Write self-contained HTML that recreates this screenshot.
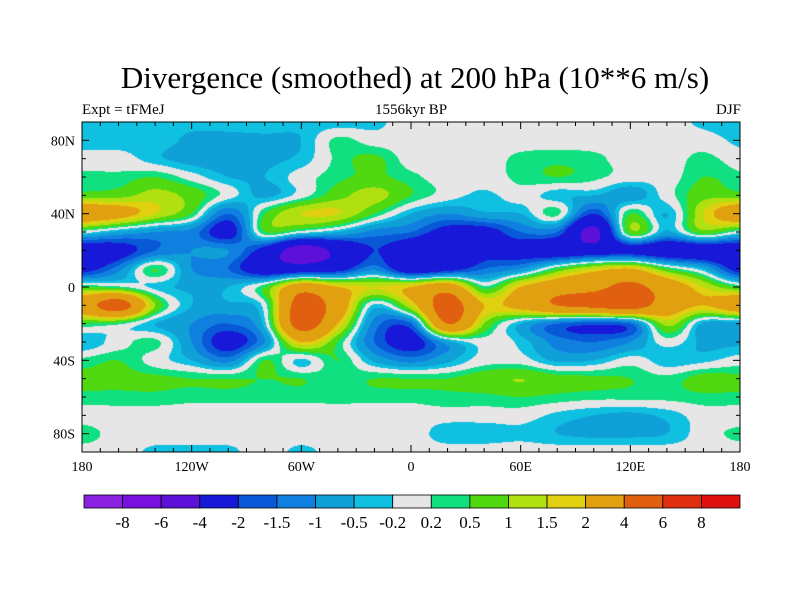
<!DOCTYPE html>
<html><head><meta charset="utf-8"><style>
body{margin:0;background:#fff;}
#wrap{position:relative;width:800px;height:600px;font-family:"Liberation Serif",serif;color:#000;overflow:hidden}
.t{position:absolute;white-space:nowrap}
</style></head><body>
<div id="wrap">
<div class="t" style="left:15px;width:800px;text-align:center;top:60px;font-size:31px">Divergence (smoothed) at 200 hPa (10**6 m/s)</div>
<div class="t" style="left:82px;top:102px;font-size:15px">Expt = tFMeJ</div>
<div class="t" style="left:311px;width:200px;text-align:center;top:102px;font-size:15px">1556kyr BP</div>
<div class="t" style="right:59px;top:102px;font-size:15px">DJF</div>
<canvas id="map" width="658" height="330" style="position:absolute;left:82px;top:122px"></canvas>
<svg id="ax" width="800" height="600" style="position:absolute;left:0;top:0"></svg>
</div>
<script>
const lons=[-180,-160,-140,-120,-100,-80,-60,-40,-20,0,20,40,60,80,100,120,140,160,180];
const lats=[90,80,70,60,50,40,30,20,10,0,-10,-20,-30,-40,-50,-60,-70,-80,-90];
const grid=[
[-0.4,-0.4,-0.4,-0.4,-0.4,-0.3,-0.4,-0.4,-0.3,0,0,0,0,0,0,0,0,-0.3,-0.4],
[-0.4,-0.4,-0.3,-0.6,-0.6,-0.6,-0.5,0.3,0,0,0,0,0,0,0,0,0,0,-0.3],
[0,0,-0.4,-0.7,-0.7,-0.6,-0.4,0.3,0.6,0,0,0,0.3,0.4,0.3,0,0,0.3,0],
[0.3,0.3,0.5,0,-0.5,-0.5,0,0.4,0.6,0.3,0,0,0.3,0.5,0.3,0,0,0.5,0.3],
[0.7,0.8,1.2,0.8,0,-0.6,0,0.8,1.2,0.5,0,-0.3,0,-0.4,-0.5,-0.8,0,0.8,0.7],
[3,2.5,1.5,0.5,-1.5,0.5,1.5,1.5,0.5,-0.5,-1,-0.6,-0.5,0.3,-2,0.5,-0.5,1.5,3],
[0,-0.6,-1,-1.2,-2.5,0.5,0,-0.5,-1.2,-1.5,-2.5,-2.5,-1.5,-1.5,-4.5,0.8,-0.6,0.8,0],
[-3,-2.5,-1.5,-1,-1,-2.5,-5,-3.5,-2,-3,-3.5,-2.5,-2.5,-3,-3,-2.5,-3,-3,-3],
[-2.5,-1.2,0.5,-1,-1.5,-3,-3,-2.5,-1.2,-3,-2.5,-1.5,-1,0.5,1.5,2,0.5,-0.5,-2.5],
[0.5,0.3,-0.3,-0.6,-0.5,0.5,3,2,1.5,2,3,0.3,2,3,3.5,4.5,3,1.5,0.5],
[3,5,1,-0.5,-0.6,0,5,3,-0.3,1.5,5,2,2.5,4,4.5,5,3,2,3],
[0.5,0.3,-0.5,-1,-1.5,-0.3,5,2,-1.2,-1.5,4,1,-0.5,-1.5,-1.8,-1.5,1.2,-0.6,-0.7],
[-0.5,0,0.3,-1,-2.5,-1,2,0.5,-1.5,-2.5,-0.7,0,-0.3,-1.2,-1.5,-1,0,-0.6,-0.6],
[0.3,0.5,0,-0.5,-1.2,0.5,-0.3,0.5,-0.6,-1.2,-0.6,0,0,-0.6,-0.5,0,-0.4,-0.3,0],
[0.6,0.6,0.6,0.5,0.5,0.5,0.5,0.3,0.5,0.5,0.5,0.8,1,0.7,0.6,0.5,0.3,0.7,0.6],
[0.4,0.4,0.4,0.3,0.3,0.3,0.3,0.3,0.3,0.3,0.4,0.4,0.5,0.4,0.3,0.3,0.3,0.4,0.4],
[0,0,0,0,0,0,0,0,0,0,0,0,0,-0.3,-0.5,-0.6,-0.4,0,0],
[0.4,0,0,0,0,0,0,0,0,0,-0.4,-0.4,-0.3,-0.5,-0.6,-0.6,-0.5,0,0.3],
[0,0,-0.3,-0.3,-0.3,0,-0.3,0,0,0,0,0,0,0,0,0,0,0,0]];
const levels=[-8,-6,-4,-2,-1.5,-1,-0.5,-0.2,0.2,0.5,1,1.5,2,4,6,8];
const levelLabels=["-8","-6","-4","-2","-1.5","-1","-0.5","-0.2","0.2","0.5","1","1.5","2","4","6","8"];
const colors=["#8a20e0","#7810e0","#5c10d8","#1818d8","#0858d8","#1080e0","#10a0d8","#10c0e0","#e6e6e6","#10e080","#50d810","#b0e010","#e0d010","#e0a010","#e06010","#e03010","#e01010"];
const latTicks=[80,40,0,-40,-80], latTickLabels=["80N","40N","0","40S","80S"];
const lonTicks=[-180,-120,-60,0,60,120,180], lonTickLabels=["180","120W","60W","0","60E","120E","180"];

const X0=82,X1=740,Y0=122,Y1=452;
const xs=lon=>X0+(lon+180)/360*(X1-X0);
const ys=lat=>Y0+(90-lat)/180*(Y1-Y0);
function g(j,i){j=Math.max(0,Math.min(lats.length-1,j));i=Math.max(0,Math.min(lons.length-1,i));return grid[j][i];}
function cr(p0,p1,p2,p3,t){return 0.5*(2*p1+(-p0+p2)*t+(2*p0-5*p1+4*p2-p3)*t*t+(-p0+3*p1-3*p2+p3)*t*t*t);}
function val(lon,lat){
  const fi=(lon-lons[0])/(lons[1]-lons[0]), fj=(lats[0]-lat)/(lats[0]-lats[1]);
  let i=Math.min(Math.floor(fi),lons.length-2), j=Math.min(Math.floor(fj),lats.length-2);
  const u=fi-i,v=fj-j;const r=[];
  for(let k=-1;k<=2;k++)r.push(cr(g(j+k,i-1),g(j+k,i),g(j+k,i+1),g(j+k,i+2),u));
  return cr(r[0],r[1],r[2],r[3],v);
}
const cv=document.getElementById('map'),ctx=cv.getContext('2d');
const W=cv.width,H=cv.height,img=ctx.createImageData(W,H);
const rgb=colors.map(c=>[parseInt(c.slice(1,3),16),parseInt(c.slice(3,5),16),parseInt(c.slice(5,7),16)]);
for(let y=0;y<H;y++)for(let x=0;x<W;x++){
  const lon=-180+(x+0.5)/W*360, lat=90-(y+0.5)/H*180;
  const v=val(lon,lat);let k=0;while(k<levels.length&&v>=levels[k])k++;
  const p=(y*W+x)*4;img.data[p]=rgb[k][0];img.data[p+1]=rgb[k][1];img.data[p+2]=rgb[k][2];img.data[p+3]=255;
}
ctx.putImageData(img,0,0);

const svg=document.getElementById('ax'),NS="http://www.w3.org/2000/svg";
function mk(t,a,txt){const e=document.createElementNS(NS,t);for(const k in a)e.setAttribute(k,a[k]);if(txt!==undefined)e.textContent=txt;svg.appendChild(e);return e;}
let fr=mk('rect',{x:X0,y:Y0,width:X1-X0,height:Y1-Y0,fill:'none',stroke:'#000','stroke-width':1});


for(let lon=-180;lon<=180;lon+=10){const x=xs(lon),L=lon%60===0?7:4;
 mk('line',{x1:x,x2:x,y1:Y1,y2:Y1-L,stroke:'#000'});mk('line',{x1:x,x2:x,y1:Y0,y2:Y0+L,stroke:'#000'});}
for(let lat=-90;lat<=90;lat+=10){const y=ys(lat),L=lat%40===0?7:4;
 mk('line',{x1:X0,x2:X0+L,y1:y,y2:y,stroke:'#000'});mk('line',{x1:X1,x2:X1-L,y1:y,y2:y,stroke:'#000'});}
latTicks.forEach((lat,i)=>{const t=mk('text',{x:75,y:ys(lat)+5,'text-anchor':'end','font-size':14,'font-family':'Liberation Serif, serif'},latTickLabels[i]);
 
 });
lonTicks.forEach((lon,i)=>{const t=mk('text',{x:xs(lon),y:471,'text-anchor':'middle','font-size':14,'font-family':'Liberation Serif, serif'},lonTickLabels[i]);
 
 });
const CB0=84,CB1=740,CBY=495,CBH=13,bw=(CB1-CB0)/colors.length;
colors.forEach((c,i)=>{const r=mk('rect',{x:CB0+i*bw,y:CBY,width:bw,height:CBH,fill:c,stroke:'#000','stroke-width':0.8});
 
 });
levelLabels.forEach((s,i)=>{const t=mk('text',{x:CB0+(i+1)*bw,y:528,'text-anchor':'middle','font-size':17,'font-family':'Liberation Serif, serif'},s);
 
 });
</script>
</body></html>
